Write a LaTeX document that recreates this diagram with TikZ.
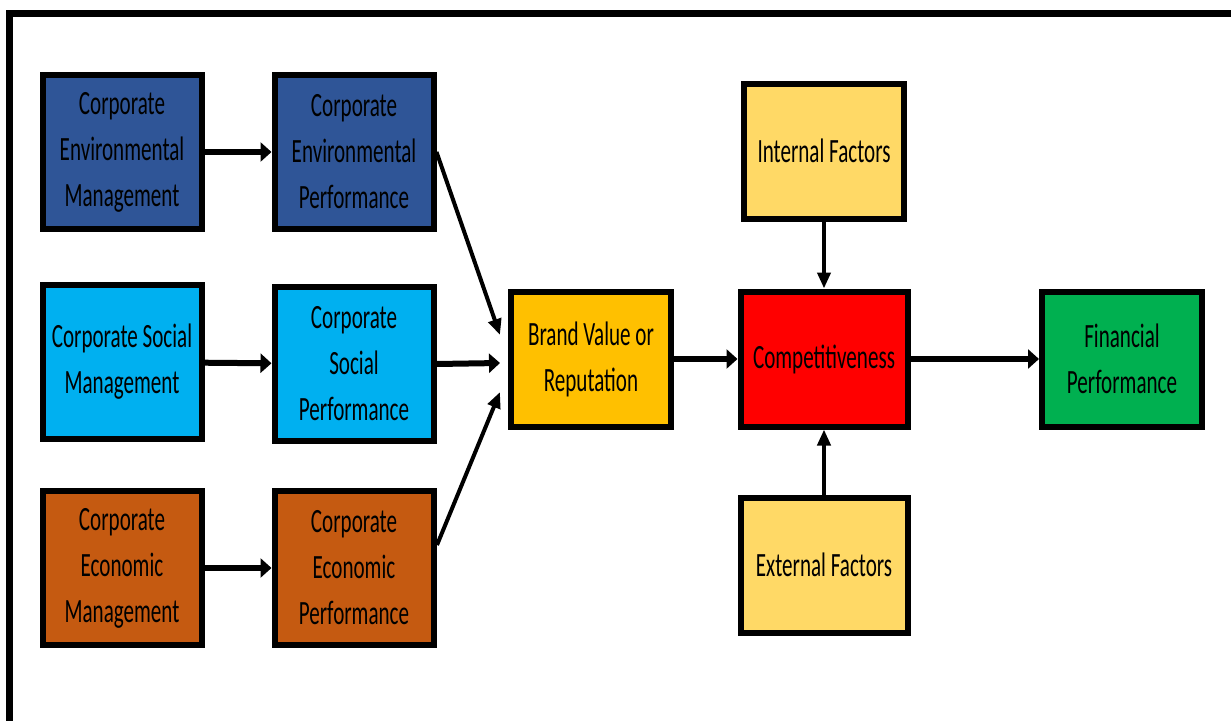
\documentclass[tikz,border=0pt]{standalone}
\usepackage{fontspec}
\setmainfont{Carlito}[FakeStretch=0.62]
\usepackage{tikz}
\usetikzlibrary{arrows.meta}
\definecolor{envblue}{HTML}{2F5597}
\definecolor{socblue}{HTML}{00B0F0}
\definecolor{ecobrown}{HTML}{C55A11}
\definecolor{brandgold}{HTML}{FFC000}
\definecolor{factoryellow}{HTML}{FFD966}
\definecolor{fingreen}{HTML}{00B050}
\begin{document}
\begin{tikzpicture}[x=1pt, y=-1pt,
    box/.style={draw=black, line width=6pt, outer sep=3pt, inner sep=0pt, align=center,
      font=\fontsize{34}{46}\selectfont},
    tall/.style={box, minimum width=159pt, minimum height=154pt},
    flat/.style={box, minimum width=160pt, minimum height=135pt},
    link/.style={line width=6pt, -{Triangle[length=11pt, width=19pt]}},
    slim/.style={line width=4pt, -{Triangle[length=16pt, width=13pt]}}]
        \useasboundingbox (0, 0) rectangle (1231, 720);
        \clip (0, 0) rectangle (1231, 720);
        \draw[line width=7pt] (9, 13) rectangle (1260, 760);
        \node[tall, fill=envblue] (envm) at (122, 152) {Corporate\\Environmental\\Management};
        \node[tall, fill=envblue] (envp) at (354, 152) {Corporate\\Environmental\\Performance};
        \node[tall, fill=socblue] (socm) at (122, 362) {Corporate Social\\Management};
        \node[tall, fill=socblue] (socp) at (354, 364) {Corporate\\Social\\Performance};
        \node[tall, fill=ecobrown] (ecom) at (122, 568) {Corporate\\Economic\\Management};
        \node[tall, fill=ecobrown] (ecop) at (354, 568) {Corporate\\Economic\\Performance};
        \node[flat, fill=brandgold] (brand) at (591, 359) {Brand Value or\\Reputation};
        \node[flat, fill=red, minimum width=167pt] (comp) at (824, 359) {Competitiveness};
        \node[flat, fill=factoryellow] (inf) at (824, 151) {Internal Factors};
        \node[flat, fill=factoryellow, minimum width=167pt] (exf) at (824, 565) {External Factors};
        \node[flat, fill=fingreen] (fin) at (1122, 359) {Financial\\Performance};
        \coordinate (intop) at (500, 335);
        \coordinate (inmid) at (500, 363);
        \coordinate (inlow) at (500, 392);
        \coordinate (ecoout) at (437, 545);
        \draw[link] (envm) -- (envp);
        \draw[link] (socm) -- (socp);
        \draw[link] (ecom) -- (ecop);
        \draw[slim] (envp.east) -- (intop);
        \draw[link] (socp.east) -- (inmid);
        \draw[slim] (ecoout) -- (inlow);
        \draw[link] (brand) -- (comp);
        \draw[link] (comp) -- (fin);
        \draw[slim] (inf) -- (comp);
        \draw[slim] (exf) -- (comp);
      \end{tikzpicture}
\end{document}
